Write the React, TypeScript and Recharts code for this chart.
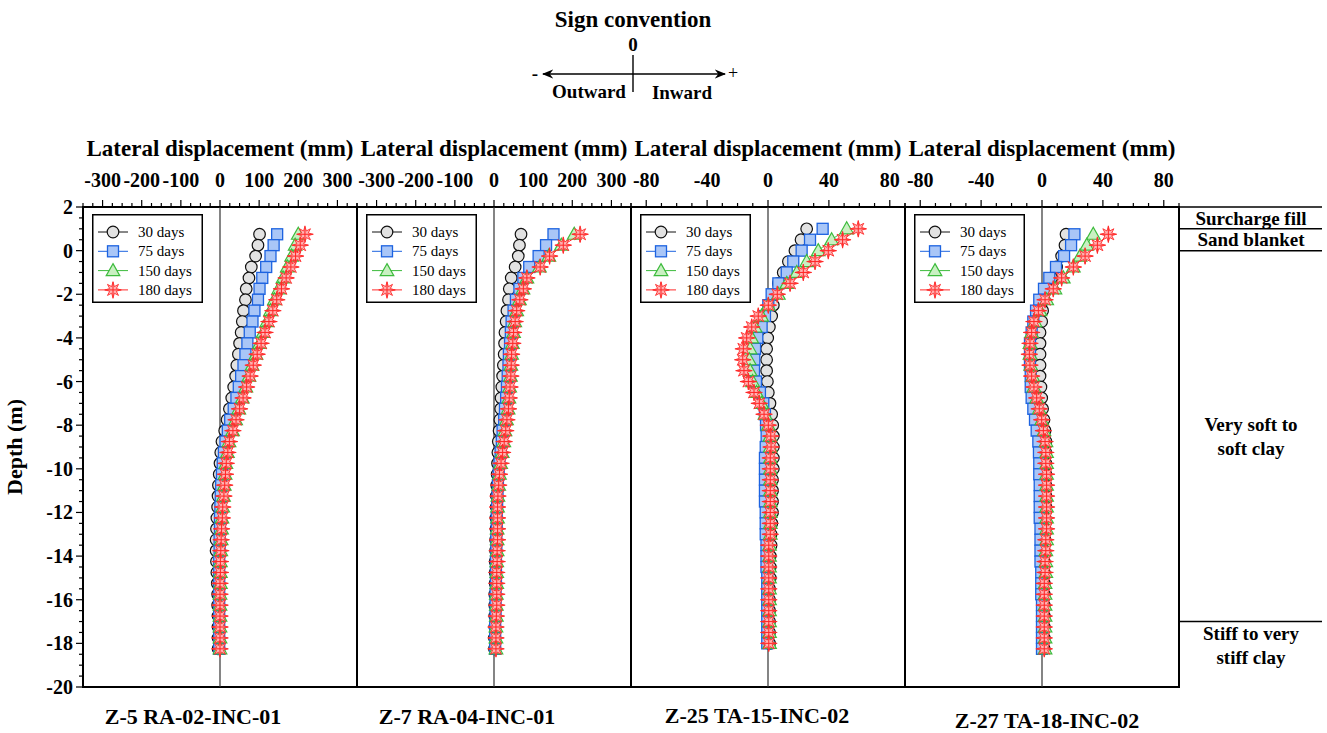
import React from "react";
import {
	ScatterChart,
	Scatter,
	XAxis,
	YAxis,
	ReferenceLine,
	ReferenceArea,
} from "recharts";

const FONT = "'Liberation Serif', 'Times New Roman', serif";

// Reading depths (m)
const depthsA = [
	0.75, 0.25, -0.25, -0.75, -1.25, -1.75, -2.25, -2.75, -3.25, -3.75, -4.25,
	-4.75, -5.25, -5.75, -6.25, -6.75, -7.25, -7.75, -8.25, -8.75, -9.25, -9.75,
	-10.25, -10.75, -11.25, -11.75, -12.25, -12.75, -13.25, -13.75, -14.25,
	-14.75, -15.25, -15.75, -16.25, -16.75, -17.25, -17.75, -18.25,
];
const depthsB = [
	1, 0.5, 0, -0.5, -1, -1.5, -2, -2.5, -3, -3.5, -4, -4.5, -5, -5.5, -6, -6.5,
	-7, -7.5, -8, -8.5, -9, -9.5, -10, -10.5, -11, -11.5, -12, -12.5, -13, -13.5,
	-14, -14.5, -15, -15.5, -16, -16.5, -17, -17.5, -18,
];

// Lateral displacement (mm), Z-5 RA-02-INC-01
const z5Day30 = [101, 97, 91, 80, 74, 67, 65, 60, 57, 54, 50, 47, 43, 40, 35, 30, 24, 18, 12, 5, 2, 0, -2, -4, -5, -6, -8, -9, -10, -10, -9, -8, -7, -6, -6, -5, -5, -5, -5];
const z5Day75 = [146, 137, 129, 118, 108, 101, 97, 88, 83, 76, 70, 65, 60, 54, 48, 42, 35, 26, 20, 14, 10, 7, 5, 3, 2, 1, 0, 0, -1, -1, -2, -2, -2, -2, -2, -2, -2, -2, -2];
const z5Day150 = [200, 192, 183, 172, 161, 150, 139, 129, 120, 110, 101, 92, 82, 74, 66, 57, 48, 40, 32, 23, 19, 15, 13, 11, 9, 7, 5, 4, 3, 2, 1, 1, 1, 0, 0, 0, 0, 0, 0];
const z5Day180 = [217, 205, 193, 181, 169, 157, 145, 135, 125, 115, 105, 95, 85, 77, 68, 59, 50, 41, 33, 24, 20, 16, 14, 12, 10, 7, 6, 4, 3, 2, 1, 1, 0, 0, 0, 0, 0, 0, 0];

// Z-7 RA-04-INC-01
const z7Day30 = [69, 65, 62, 54, 44, 39, 37, 33, 31, 28, 27, 26, 24, 22, 20, 18, 17, 15, 13, 11, 10, 9, 8, 7, 6, 6, 5, 5, 4, 4, 3, 3, 3, 2, 2, 2, 2, 1, 1];
const z7Day75 = [152, 133, 114, 90, 75, 65, 56, 50, 45, 43, 41, 38, 37, 35, 33, 31, 28, 26, 22, 20, 17, 14, 12, 10, 9, 8, 7, 7, 6, 6, 5, 5, 5, 4, 4, 4, 3, 3, 3];
const z7Day150 = [205, 172, 140, 116, 84, 74, 65, 58, 53, 50, 47, 45, 43, 42, 40, 38, 36, 32, 28, 25, 21, 17, 14, 12, 10, 9, 9, 8, 8, 8, 7, 7, 7, 6, 6, 6, 5, 5, 5];
const z7Day180 = [220, 177, 142, 118, 84, 75, 66, 58, 54, 50, 48, 45, 44, 43, 41, 39, 37, 33, 30, 26, 22, 18, 14, 12, 10, 9, 9, 9, 9, 8, 8, 7, 7, 7, 7, 6, 5, 5, 5];

// Z-25 TA-15-INC-02
const z25Day30 = [25.4, 21.7, 17.7, 13.4, 10, 6.8, 4.6, 3.5, 2.4, 0.9, -0.2, -0.9, -0.9, -0.9, -0.4, 0.2, 1.3, 2.4, 3.1, 3.5, 3.5, 3.5, 3.5, 3, 3, 3, 3, 2.5, 2, 2, 1.5, 1.5, 1.5, 1, 1, 1, 1, 1, 1];
const z25Day75 = [35.9, 27.6, 22.1, 16.6, 12.3, 6.8, 2.4, 0.2, -2, -4.2, -7, -8.5, -9, -9.2, -7.9, -5.3, -3.1, -2, -1.3, -0.9, -1.5, -2, -2, -2, -2, -2, -1.5, -1.5, -1.5, -1, -1, -1, -0.5, -0.5, -0.5, -0.5, -0.5, -0.5, -0.5];
const z25Day150 = [51.7, 41.8, 33, 25.4, 18.9, 12.3, 6.8, 0.2, -4.2, -8.5, -10.7, -11.8, -12.3, -11.8, -10.1, -7.5, -4.2, -2, 0.2, 1.3, 1.5, 1.5, 1.5, 1.5, 1.5, 1.5, 1.5, 1.5, 1.5, 1, 1, 1, 1, 1, 1, 1, 1, 1, 1];
const z25Day180 = [59.3, 49, 39.6, 30.9, 23.2, 14.5, 6.1, 0.2, -6.4, -10.7, -14, -16.2, -16.6, -15.8, -12.9, -9.2, -5.7, -2.6, 0.2, 1.8, 2, 1.5, 1.5, 1.5, 1.5, 1.5, 1.5, 1.5, 1.5, 0.5, 0.5, 0.5, 0.5, 0.5, 0.5, 0.5, 0.5, 0.5, 0.5];

// Z-27 TA-18-INC-02
const z27Day30 = [15.8, 15.1, 12.9, 9.6, 6.4, 3.5, 1.5, 0.4, -0.2, -1.3, -1.3, -1.3, -1.3, -1.3, -0.7, -0.2, 0.4, 1.3, 2, 2.6, 2.5, 2.5, 2.5, 2.5, 2.5, 2.5, 2, 2, 2, 1.5, 1.5, 1.5, 1.5, 1.5, 1.5, 1.5, 1.5, 1.5, 1.5];
const z27Day75 = [21.3, 19.1, 14.5, 9.2, 4.8, 1.3, -1.8, -3.9, -5.7, -6.8, -7.9, -7.9, -7.9, -7.4, -7.4, -6.8, -5.7, -4.6, -3.5, -2.4, -2, -1.8, -1.8, -1.5, -1.5, -1.5, -1.5, -1, -1, -1, -1, -0.5, -0.5, -0.5, 0, 0, 0, 0, 0];
const z27Day150 = [33.7, 29.4, 25, 20.6, 14, 8.5, 3.1, -1.3, -4.6, -6.8, -7.9, -7.9, -7.4, -6.1, -5.3, -3.5, -1.8, -0.2, 1.3, 2.6, 3, 3, 3, 3, 3, 3, 3, 3, 3, 2.5, 2.5, 2.5, 2, 2, 2, 2, 2, 2, 2];
const z27Day180 = [43.6, 36.4, 28.3, 20.6, 12.9, 7.4, 2, -2.4, -5.3, -6.8, -7.9, -8.3, -7.9, -6.8, -5.3, -3.5, -1.8, -0.2, 0.9, 2, 2.5, 2.5, 3, 3, 3, 3, 3, 3, 2.5, 2.5, 2, 2, 1.5, 1.5, 1.5, 1.5, 1.5, 1.5, 1.5];

const seriesNames = ["30 days", "75 days", "150 days", "180 days"];

// Tick labels
const wideLabels = [-300, -200, -100, 0, 100, 200, 300];
const narrowLabels = [-80, -40, 0, 40, 80];
const depthLabels = [2, 0, -2, -4, -6, -8, -10, -12, -14, -16, -18, -20];

// Soil profile
const layerTops = [2, 1, 0, -17];
const layerBottoms = [1, 0, -17, -20];
const layerNames = [
	["Surcharge fill"],
	["Sand blanket"],
	["Very soft to", "soft clay"],
	["Stiff to very", "stiff clay"],
];
// nudges the bottom layer's text up a little from the layer centre
const layerLabelShift = [0, 0, 0, -9];

const stepTicks = (lo: number, hi: number, step: number) => {
	const out: number[] = [];
	for (let v = lo; v <= hi + 1e-9; v += step) out.push(Math.round(v * 100) / 100);
	return out;
};

const depthTicks = stepTicks(-20, 2, 0.5);

const colors = [
	{ line: "#111", fill: "#e2e2e2", stroke: "#111" },
	{ line: "#1d63e0", fill: "#a9c6f7", stroke: "#1d63e0" },
	{ line: "#3dbb3d", fill: "#c9f0c2", stroke: "#3dbb3d" },
	{ line: "#ff2a2a", fill: "#ffb4b4", stroke: "#ff2a2a" },
];

const CHART_TOP = 120;
const PLOT_W = 274;
const PLOT_H = 480;
const M = { top: 57, right: 12, bottom: 40, left: 12 };
const X_AXIS_H = 30;
const Y_AXIS_W = 70;
const CHART_H = M.top + X_AXIS_H + PLOT_H + M.bottom;

const panels = [
	{
		name: "Z-5 RA-02-INC-01",
		plotLeft: 83,
		domain: [-350, 350],
		ticks: stepTicks(-350, 350, 25),
		labels: wideLabels,
		depths: depthsA,
		series: [z5Day30, z5Day75, z5Day150, z5Day180],
		nameX: 193,
		nameY: 724,
		yAxis: true,
	},
	{
		name: "Z-7 RA-04-INC-01",
		plotLeft: 357,
		domain: [-350, 350],
		ticks: stepTicks(-350, 350, 25),
		labels: wideLabels,
		depths: depthsA,
		series: [z7Day30, z7Day75, z7Day150, z7Day180],
		nameX: 467,
		nameY: 724,
		yAxis: false,
	},
	{
		name: "Z-25 TA-15-INC-02",
		plotLeft: 631,
		domain: [-90, 90],
		ticks: stepTicks(-90, 90, 10),
		labels: narrowLabels,
		depths: depthsB,
		series: [z25Day30, z25Day75, z25Day150, z25Day180],
		nameX: 757,
		nameY: 723,
		yAxis: false,
	},
	{
		name: "Z-27 TA-18-INC-02",
		plotLeft: 905,
		domain: [-90, 90],
		ticks: stepTicks(-90, 90, 10),
		labels: narrowLabels,
		depths: depthsA,
		series: [z27Day30, z27Day75, z27Day150, z27Day180],
		nameX: 1047,
		nameY: 728,
		yAxis: false,
	},
];

function Marker({ kind, cx, cy }: { kind: number; cx?: number; cy?: number }) {
	if (cx == null || cy == null) return null;
	const c = colors[kind];
	if (kind === 0)
		return <circle cx={cx} cy={cy} r={5.8} fill={c.fill} stroke={c.stroke} strokeWidth={1.2} />;
	if (kind === 1)
		return (
			<rect x={cx - 5.5} y={cy - 5.5} width={11} height={11} fill={c.fill} stroke={c.stroke} strokeWidth={1.3} />
		);
	if (kind === 2)
		return (
			<polygon
				points={`${cx},${cy - 7} ${cx + 6.8},${cy + 5} ${cx - 6.8},${cy + 5}`}
				fill={c.fill}
				stroke={c.stroke}
				strokeWidth={1.2}
			/>
		);
	// 180 days: pink starburst with red spokes
	const pts: string[] = [];
	for (let k = 0; k < 16; k++) {
		const a = (k * Math.PI) / 8 - Math.PI / 2;
		const r = k % 2 === 0 ? 7.8 : 3.6;
		pts.push(`${cx + r * Math.cos(a)},${cy + r * Math.sin(a)}`);
	}
	return (
		<g>
			<polygon points={pts.join(" ")} fill={c.fill} stroke={c.stroke} strokeWidth={0.9} />
			<line x1={cx - 8.5} y1={cy} x2={cx + 8.5} y2={cy} stroke={c.stroke} strokeWidth={1.1} />
			<line x1={cx} y1={cy - 8.5} x2={cx} y2={cy + 8.5} stroke={c.stroke} strokeWidth={1.1} />
		</g>
	);
}

const TopTick = (props: any) => {
	const { x, y, payload, labels } = props;
	const major = labels.includes(payload.value);
	return (
		<g>
			<line x1={x} y1={y} x2={x} y2={y - (major ? 7 : 4)} stroke="#000" strokeWidth={1.2} />
			{major && (
				<text x={x} y={y - 20} textAnchor="middle" fontFamily={FONT} fontWeight="bold" fontSize={20} fill="#000">
					{payload.value}
				</text>
			)}
		</g>
	);
};

const LeftTick = (props: any) => {
	const { x, y, payload } = props;
	const major = depthLabels.includes(payload.value);
	return (
		<g>
			<line x1={x} y1={y} x2={x - (major ? 7 : 4)} y2={y} stroke="#000" strokeWidth={1.2} />
			{major && (
				<text x={x - 10} y={y} dy="0.35em" textAnchor="end" fontFamily={FONT} fontWeight="bold" fontSize={20} fill="#000">
					{payload.value}
				</text>
			)}
		</g>
	);
};

function LegendBox() {
	return (
		<svg width={111} height={89} style={{ display: "block" }}>
			<rect x={0.75} y={0.75} width={109.5} height={87.5} fill="#fff" stroke="#000" strokeWidth={1.5} />
			{seriesNames.map((name, k) => {
				const y = 18 + k * 19.3;
				return (
					<g key={name}>
						<line x1={6} y1={y} x2={36} y2={y} stroke={colors[k].line} strokeWidth={1} />
						<Marker kind={k} cx={21} cy={y} />
						<text x={46} y={y + 5} fontFamily={FONT} fontSize={15} fill="#000">
							{name}
						</text>
					</g>
				);
			})}
		</svg>
	);
}

function Panel({ p }: { p: (typeof panels)[number] }) {
	const offsetLeft = M.left + (p.yAxis ? Y_AXIS_W : 0);
	const width = offsetLeft + PLOT_W + M.right;
	return (
		<div style={{ position: "absolute", left: p.plotLeft - offsetLeft, top: CHART_TOP }}>
			<ScatterChart width={width} height={CHART_H} margin={M}>
				<XAxis
					type="number"
					dataKey="x"
					orientation="top"
					domain={p.domain}
					ticks={p.ticks}
					interval={0}
					allowDataOverflow
					height={X_AXIS_H}
					axisLine={false}
					tickLine={false}
					tickSize={0}
					tickMargin={0}
					tick={(t: any) => <TopTick {...t} labels={p.labels} />}
					label={{
						value: "Lateral displacement (mm)",
						position: "top",
						offset: 21,
						fontSize: 23,
						fontWeight: 700,
						fill: "#000",
						fontFamily: FONT,
					}}
				/>
				<YAxis
					type="number"
					dataKey="y"
					domain={[-20, 2]}
					ticks={depthTicks}
					interval={0}
					allowDataOverflow
					width={Y_AXIS_W}
					hide={!p.yAxis}
					axisLine={false}
					tickLine={false}
					tickSize={0}
					tickMargin={0}
					tick={(t: any) => <LeftTick {...t} />}
				/>
				<ReferenceLine x={0} stroke="#333" strokeWidth={1.2} />
				{p.series.map((vals, k) => (
					<Scatter
						key={seriesNames[k]}
						name={seriesNames[k]}
						data={vals.map((v, i) => ({ x: v, y: p.depths[i] }))}
						line={{ stroke: colors[k].line, strokeWidth: 1 }}
						shape={(s: any) => <Marker kind={k} cx={s.cx} cy={s.cy} />}
						isAnimationActive={false}
					/>
				))}
				<ReferenceArea
					x1={p.domain[0]}
					x2={p.domain[1]}
					y1={-20}
					y2={2}
					fill="none"
					fillOpacity={0}
					stroke="#000"
					strokeWidth={2}
				/>
			</ScatterChart>
			<div style={{ position: "absolute", left: offsetLeft + 9, top: M.top + X_AXIS_H + 7 }}>
				<LegendBox />
			</div>
		</div>
	);
}

const SoilLabel = (props: any) => {
	const { viewBox, lines, shift } = props;
	if (!viewBox) return null;
	const cx = viewBox.x + viewBox.width / 2;
	const cy = viewBox.y + viewBox.height / 2 + (shift || 0);
	const lh = 24;
	return (
		<text textAnchor="middle" fontFamily={FONT} fontWeight="bold" fontSize={19} fill="#000">
			{lines.map((ln: string, i: number) => (
				<tspan key={ln} x={cx} y={cy - ((lines.length - 1) * lh) / 2 + i * lh} dy="0.35em">
					{ln}
				</tspan>
			))}
		</text>
	);
};

function SoilColumn() {
	const plotLeft = 1180;
	const plotW = 142;
	// layer boundaries, used only to give the chart something to scale
	const bounds = layerTops.map((d) => ({ x: 0.5, y: d }));
	return (
		<div style={{ position: "absolute", left: plotLeft, top: CHART_TOP }}>
			<ScatterChart
				width={plotW + 4}
				height={CHART_H}
				margin={{ top: M.top + X_AXIS_H, right: 4, bottom: M.bottom, left: 0 }}
			>
				<XAxis type="number" dataKey="x" domain={[0, 1]} hide />
				<YAxis type="number" dataKey="y" domain={[-20, 2]} hide allowDataOverflow />
				<Scatter data={bounds} shape={() => <g />} isAnimationActive={false} />
				{layerNames.map((lines, i) => (
					<ReferenceArea
						key={lines[0]}
						x1={0}
						x2={1}
						y1={layerBottoms[i]}
						y2={layerTops[i]}
						fill="none"
						fillOpacity={0}
						label={<SoilLabel lines={lines} shift={layerLabelShift[i]} />}
					/>
				))}
				{layerTops.map((d) => (
					<ReferenceLine key={d} y={d} stroke="#000" strokeWidth={1.5} />
				))}
			</ScatterChart>
		</div>
	);
}

function Annotations() {
	const txt = { fontFamily: FONT, fontWeight: "bold" as const, fill: "#000" };
	return (
		<svg
			width={1327}
			height={733}
			style={{ position: "absolute", left: 0, top: 0, pointerEvents: "none" }}
		>
			<defs>
				<marker id="arrow" viewBox="0 0 10 10" refX={9} refY={5} markerWidth={8} markerHeight={8} orient="auto-start-reverse">
					<path d="M0,1 L10,5 L0,9 L3,5 Z" fill="#000" />
				</marker>
			</defs>
			{/* sign convention */}
			<text x={633} y={27} textAnchor="middle" fontSize={23} {...txt}>
				Sign convention
			</text>
			<text x={633} y={51} textAnchor="middle" fontSize={19} {...txt}>
				0
			</text>
			<line x1={543} y1={74} x2={725} y2={74} stroke="#000" strokeWidth={1.4} markerStart="url(#arrow)" markerEnd="url(#arrow)" />
			<line x1={633} y1={55} x2={633} y2={92} stroke="#000" strokeWidth={1.4} />
			<text x={535} y={80} textAnchor="middle" fontSize={19} {...txt}>
				-
			</text>
			<text x={733} y={79} textAnchor="middle" fontSize={18} fontFamily={FONT} fill="#000">
				+
			</text>
			<text x={589} y={98} textAnchor="middle" fontSize={19} {...txt}>
				Outward
			</text>
			<text x={682} y={99} textAnchor="middle" fontSize={19} {...txt}>
				Inward
			</text>
			{/* depth axis title */}
			<text transform="translate(22,447) rotate(-90)" textAnchor="middle" fontSize={22} {...txt}>
				Depth (m)
			</text>
			{panels.map((p) => (
				<text key={p.name} x={p.nameX} y={p.nameY} textAnchor="middle" fontSize={22} {...txt}>
					{p.name}
				</text>
			))}
		</svg>
	);
}

export default function App() {
	return (
		<div style={{ position: "absolute", left: 0, top: 0, width: 1327, height: 733, background: "#fff" }}>
			{panels.map((p) => (
				<Panel key={p.name} p={p} />
			))}
			<SoilColumn />
			<Annotations />
		</div>
	);
}
